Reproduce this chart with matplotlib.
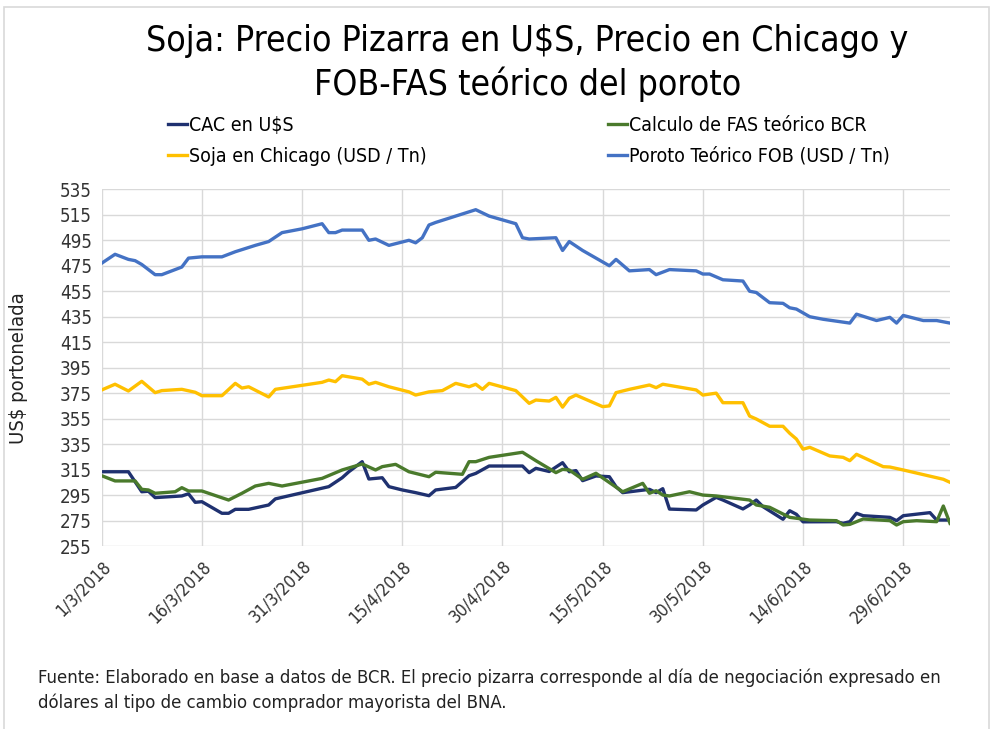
import datetime as dt

import matplotlib
matplotlib.use('Agg')
import matplotlib.pyplot as plt
from matplotlib.patches import Rectangle

plt.rcParams['font.family'] = ['DejaVu Sans']
plt.rcParams['font.stretch'] = 'condensed'

start = dt.date(2018, 3, 1)

# days counted from 1/3/2018, values in US$ per tonne
cac_days = [0, 4, 6, 7, 8, 12, 13, 14, 15, 18, 19, 20, 22, 25, 26, 34, 36, 37, 39, 40,
            42, 43, 45, 47, 49, 50, 53, 55, 56, 58, 63, 64, 65, 67, 69, 70, 71, 72, 74, 76,
            77, 78, 82, 83, 84, 85, 89, 90, 92, 93, 96, 97, 98, 99, 102, 103, 104, 105, 110, 111,
            112, 113, 114, 118, 119, 120, 124, 125, 127]
cac_vals = [313.3, 313.3, 297.6, 298, 293, 294.3, 296, 289.3, 289.8, 280.7, 280.7, 283.8, 283.8, 287.2, 292,
            301.6, 308.6, 313.3, 321.2, 307.6, 308.6, 301.6, 299, 296.9, 294.5, 299, 301, 310.2, 312, 317.8,
            317.8, 312.6, 316, 313.5, 320.4, 313.3, 314.2, 306.3, 310, 309.4, 301.6, 296.9, 299.5, 296.9, 300,
            284, 283.3, 287.2, 293.2, 291.1, 284.1, 287.2, 291.1, 285.9, 276, 282.7, 279.9, 274, 274.1, 272.8,
            274.1, 280.7, 278.8, 277.5, 274.9, 278.8, 281.2, 275.4, 275.4]

fas_days = [0, 2, 5, 6, 7, 8, 11, 12, 13, 15, 19, 21, 23, 25, 27, 33, 36, 39, 41, 42,
            44, 46, 49, 50, 54, 55, 56, 58, 63, 65, 68, 69, 70, 72, 74, 78, 81, 82, 83, 84,
            85, 88, 90, 92, 97, 98, 100, 103, 106, 110, 111, 112, 114, 118, 119, 120, 122, 125, 126, 127]
fas_vals = [310.2, 306.1, 306.1, 299.5, 299, 296.4, 297.6, 300.8, 298.2, 298.2, 291.1, 296.4, 302.1, 304.2, 302.1,
            308.1, 314.7, 319.4, 314.7, 317.3, 319.1, 313.3, 309.4, 312.9, 311.3, 321.2, 321.2, 324.6, 328.6, 322,
            312.6, 315.2, 314.7, 307.4, 312.1, 297.6, 304.2, 296.4, 298.4, 295, 294.3, 297.6, 295, 294.3, 291.1,
            287.2, 285.4, 277.5, 275.4, 274.9, 271.5, 272, 276.2, 274.9, 271.5, 274.1, 274.9, 274.1, 286.4, 272.8]

chicago_days = [0, 2, 4, 6, 8, 9, 12, 14, 15, 18, 20, 21, 22, 25, 26, 33, 34, 35, 36, 39,
                40, 41, 43, 46, 47, 49, 51, 53, 55, 56, 57, 58, 62, 64, 65, 67, 68, 69, 70, 71,
                75, 76, 77, 79, 82, 83, 84, 89, 90, 92, 93, 96, 97, 98, 100, 102, 103, 104, 105, 106,
                109, 111, 112, 113, 117, 118, 120, 126, 127]
chicago_vals = [377.5, 382, 376.7, 384.3, 375.4, 377, 378, 375.7, 373, 373, 382.7, 379, 380, 372, 378,
                383.5, 385.3, 384, 388.7, 386, 382, 383.5, 380, 376, 373.5, 376, 377, 382.7, 380, 382,
                378, 382.7, 377, 367, 369.6, 368.8, 371.7, 364, 371, 373.5, 364.4, 365, 375.4, 378, 381.4,
                379.3, 382, 377.5, 373.5, 375, 367.5, 367.5, 357, 354.7, 349, 349, 343.5, 339, 331, 332.5,
                325.7, 324.6, 322, 327, 317.3, 317, 314.7, 307.4, 305]

fob_days = [0, 2, 4, 5, 6, 8, 9, 10, 12, 13, 15, 18, 20, 23, 25, 27, 30, 33, 34, 35,
            36, 39, 40, 41, 43, 46, 47, 48, 49, 50, 56, 58, 60, 62, 63, 64, 68, 69, 70, 72,
            74, 76, 77, 79, 82, 83, 85, 89, 90, 91, 93, 96, 97, 98, 100, 102, 103, 104, 106, 108,
            112, 113, 116, 118, 119, 120, 123, 125, 127]
fob_vals = [477, 484, 480, 479, 476, 468, 468, 470, 474, 481, 482, 482, 486, 491, 494, 501, 504, 508, 501, 501,
            503, 503, 495, 496, 491, 495, 493, 497, 507, 509, 519, 514, 511, 508, 497, 496, 497, 487, 494, 487,
            481, 475, 480, 471, 472, 468, 472, 471, 468.5, 468.5, 464, 463, 455, 454, 446, 445.5, 442, 441, 435, 433,
            430, 437, 432, 434.5, 430, 436, 432, 432, 430]

tick_days = [0, 15, 30, 45, 60, 75, 90, 105, 120]
y_ticks = list(range(255, 536, 20))

title = 'Soja: Precio Pizarra en U$S, Precio en Chicago y\nFOB-FAS teórico del poroto'
note = ('Fuente: Elaborado en base a datos de BCR. El precio pizarra corresponde al día de negociación expresado en\n'
        'dólares al tipo de cambio comprador mayorista del BNA.')


def to_dates(days):
    return [start + dt.timedelta(days=d) for d in days]


fig = plt.figure(figsize=(9.93, 7.29), dpi=100)
fig.patches.append(Rectangle((0.004, -0.01), 0.992, 1.0, transform=fig.transFigure,
                             fill=False, edgecolor='#d9d9d9', linewidth=1.2))
ax = fig.add_axes([0.1024, 0.251, 0.8543, 0.4893])

ax.plot(to_dates(cac_days), cac_vals, color='#1f3170', lw=2.4, label='CAC en U$S')
ax.plot(to_dates(chicago_days), chicago_vals, color='#ffc000', lw=2.4, label='Soja en Chicago (USD / Tn)')
ax.plot(to_dates(fas_days), fas_vals, color='#4a7a2c', lw=2.4, label='Calculo de FAS teórico BCR')
ax.plot(to_dates(fob_days), fob_vals, color='#4472c4', lw=2.4, label='Poroto Teórico FOB (USD / Tn)')

ax.set_xlim(start, start + dt.timedelta(days=127))
ax.set_ylim(255, 535)
ax.set_yticks(y_ticks)
ticks = to_dates(tick_days)
ax.set_xticks(ticks)
ax.set_xticklabels([f'{d.day}/{d.month}/{d.year}' for d in ticks], rotation=45, ha='right',
                   rotation_mode='anchor', fontsize=12.5, color='#333333')
ax.tick_params(axis='y', labelsize=13.5, labelcolor='#333333', length=0, pad=7)
ax.tick_params(axis='x', length=0, pad=8)
ax.grid(True, color='#d9d9d9', lw=1)
ax.set_axisbelow(True)
for s in ax.spines.values():
    s.set_visible(False)
ax.set_ylabel('US$ portonelada', fontsize=14.5, color='#222222')
ax.yaxis.set_label_coords(-0.087, 0.5)

fig.text(0.531, 0.913, title, ha='center', va='center', fontsize=25.6, linespacing=1.3)
fig.legend(loc='center left', bbox_to_anchor=(168 / 993, 0.807), ncol=2, frameon=False, fontsize=14,
           borderpad=0, borderaxespad=0, handlelength=1.0, handletextpad=0.1, columnspacing=9.3,
           labelspacing=0.6)
fig.text(0.038, 0.0535, note, ha='left', va='center', fontsize=13.2, linespacing=1.45, color='#222222')

fig.savefig('out.png', dpi=100)
